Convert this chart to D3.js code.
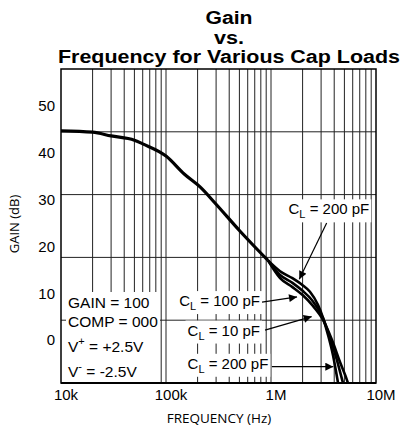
<!DOCTYPE html>
<html>
<head>
<meta charset="utf-8">
<script src="https://cdn.jsdelivr.net/npm/d3@7"></script>
<style>
  body { margin: 0; background: #fff; }
  svg { display: block; font-family: "Liberation Sans", Arial, sans-serif; }
</style>
</head>
<body>
<div id="chart"></div>
<script>
// Common part of the response (all loads overlap here)
const baseFreq = [10e3, 20e3, 30e3, 50e3, 60e3, 100e3, 150e3, 211e3, 300e3, 500e3, 674e3, 936e3];
const baseGain = [44.7, 44.4, 43.6, 42.7, 41.9, 39.3, 35.4, 32.7, 29.0, 23.4, 20.3, 17.0];

// Split-off part per load capacitance
const freq200 = [936e3, 1.22e6, 1.6e6, 2.0e6, 2.35e6, 2.8e6, 3.13e6, 3.49e6, 3.89e6, 4.35e6, 4.6e6];
const gain200 = [17.0, 14.7, 13.2, 11.7, 10.3, 7.5, 4.7, 1.1, -3.2, -9.2, -12.5];
const freq100 = [936e3, 1.22e6, 1.6e6, 2.0e6, 2.46e6, 3.13e6, 3.65e6, 4.16e6, 4.85e6, 5.1e6];
const gain100 = [17.0, 13.9, 12.2, 10.5, 8.5, 4.7, 0.4, -3.6, -9.2, -11];
const freq10 = [936e3, 1.22e6, 1.6e6, 2.0e6, 2.46e6, 3.13e6, 3.81e6, 4.54e6, 5.41e6, 5.7e6];
const gain10 = [17.0, 13.2, 11.3, 9.6, 7.5, 4.3, 0.0, -4.7, -9.2, -11];

const xTickVals = [1e4, 1e5, 1e6, 1e7];
const xTickText = ["10k", "100k", "1M", "10M"];
const yTickVals = [0, 10, 20, 30, 40, 50];

const titleLines = ["Gain", "vs.", "Frequency for Various Cap Loads"];
const condLines = [["GAIN = 100"], ["COMP = 000"], ["V", "+", " = +2.5V"], ["V", "-", " = -2.5V"]];

// label text (right end) and arrow (from -> tip), in data units
const notes = [
  { cap: "200 pF", tf: 8.63e6, tg: 28.0, af: 3.39e6, ag: 25.0, bf: 1.86e6, bg: 13.0 },
  { cap: "100 pF", tf: 785e3, tg: 8.4, af: 821e3, ag: 8.1, bf: 1.77e6, bg: 9.2 },
  { cap: "10 pF", tf: 785e3, tg: 2.1, af: 877e3, ag: 2.1, bf: 2.44e6, bg: 5.0 },
  { cap: "200 pF", tf: 943e3, tg: -5.0, af: 1.02e6, ag: -5.7, bf: 3.92e6, bg: -5.7 }
];

const width = 402, height = 438;
const mLeft = 61, mRight = 376, mTop = 69, mBottom = 383;

const x = d3.scaleLog().domain([1e4, 1e7]).range([mLeft, mRight]);
const y = d3.scaleLinear().domain([-9.19, 57.9]).range([mBottom, mTop]);
const gridY = d3.scaleLinear().domain([0, 5]).range([mBottom, mTop]);

const svg = d3.select("#chart").append("svg")
  .attr("width", width).attr("height", height);

const defs = svg.append("defs");
defs.append("clipPath").attr("id", "plot")
  .append("rect").attr("x", mLeft).attr("y", mTop)
  .attr("width", mRight - mLeft).attr("height", mBottom - mTop);

defs.append("marker")
  .attr("id", "arrow").attr("viewBox", "0 0 10 10")
  .attr("refX", 10).attr("refY", 5)
  .attr("markerWidth", 11).attr("markerHeight", 8)
  .attr("markerUnits", "userSpaceOnUse")
  .attr("orient", "auto")
  .append("path").attr("d", "M0,0L10,5L0,10Z").attr("fill", "#000");

// title (stretched a little, like the original artwork)
const titleWidths = [47, 30, 342];
svg.append("g").selectAll("text").data(titleLines).enter().append("text")
  .attr("x", 229).attr("y", (d, i) => 24 + i * 19.5)
  .attr("text-anchor", "middle")
  .attr("font-weight", "bold").attr("font-size", 18)
  .attr("textLength", (d, i) => titleWidths[i])
  .attr("lengthAdjust", "spacingAndGlyphs")
  .text(d => d);

// grid
const vgrid = [];
[1e4, 1e5, 1e6].forEach(dec => d3.range(2, 10).forEach(m => vgrid.push(dec * m)));
vgrid.push(1e5, 1e6);
const grid = svg.append("g").attr("stroke", "#222").attr("stroke-width", 1);
grid.selectAll("line.v").data(vgrid).enter().append("line")
  .attr("class", "v")
  .attr("x1", d => x(d)).attr("x2", d => x(d))
  .attr("y1", mTop).attr("y2", mBottom);
grid.selectAll("line.h").data(d3.range(1, 5)).enter().append("line")
  .attr("class", "h")
  .attr("x1", mLeft).attr("x2", mRight)
  .attr("y1", d => gridY(d)).attr("y2", d => gridY(d));

// curves
const line = d3.line()
  .x(d => x(d[0])).y(d => y(d[1]))
  .curve(d3.curveMonotoneX);
const base = baseFreq.map((f, i) => [f, baseGain[i]]);
const series = [
  freq200.map((f, i) => [f, gain200[i]]),
  freq100.map((f, i) => [f, gain100[i]]),
  freq10.map((f, i) => [f, gain10[i]])
];
const curves = svg.append("g").attr("clip-path", "url(#plot)")
  .attr("fill", "none").attr("stroke", "#000");
curves.append("path").attr("d", line(base)).attr("stroke-width", 3.2);
curves.selectAll("path.cap").data(series).enter().append("path")
  .attr("class", "cap")
  .attr("d", d => line(d))
  .attr("stroke-width", 2.6);

// condition box
const cond = svg.append("g");
cond.append("rect").attr("x", mLeft + 5).attr("y", 292)
  .attr("width", 94).attr("height", mBottom - 292).attr("fill", "#fff");
const condText = cond.selectAll("text").data(condLines).enter().append("text")
  .attr("x", mLeft + 7)
  .attr("y", (d, i) => [302.7, 321, 346.7, 371.7][i])
  .attr("dy", "0.36em").attr("font-size", 15.5);
condText.append("tspan").text(d => d[0]);
condText.filter(d => d.length > 2).append("tspan")
  .attr("dy", -7).attr("font-size", 11).text(d => d[1]);
condText.filter(d => d.length > 2).append("tspan")
  .attr("dy", 7).text(d => d[2]);

// cap-load labels with arrows
const ann = svg.append("g");
notes.forEach(n => {
  const g = ann.append("g");
  const t = g.append("text")
    .attr("x", x(n.tf)).attr("y", y(n.tg))
    .attr("dy", "0.36em").attr("text-anchor", "end").attr("font-size", 15);
  t.append("tspan").text("C");
  t.append("tspan").attr("dy", 4).attr("font-size", 11).text("L");
  t.append("tspan").attr("dy", -4).text(" = " + n.cap);
  const bb = t.node().getBBox();
  g.insert("rect", "text")
    .attr("x", bb.x - 2).attr("y", bb.y - 1)
    .attr("width", bb.width + 4).attr("height", bb.height + 3)
    .attr("fill", "#fff");
  ann.append("line")
    .attr("x1", x(n.af)).attr("y1", y(n.ag))
    .attr("x2", x(n.bf)).attr("y2", y(n.bg))
    .attr("stroke", "#000").attr("stroke-width", 1.2)
    .attr("marker-end", "url(#arrow)");
});

// frame
svg.append("rect").attr("x", mLeft).attr("y", mTop)
  .attr("width", mRight - mLeft).attr("height", mBottom - mTop)
  .attr("fill", "none").attr("stroke", "#000").attr("stroke-width", 1.5);
svg.append("line").attr("x1", mLeft).attr("x2", mRight)
  .attr("y1", mBottom).attr("y2", mBottom)
  .attr("stroke", "#000").attr("stroke-width", 2);

// axis labels
svg.append("g").selectAll("text").data(xTickVals).enter().append("text")
  .attr("x", d => x(d) + 5).attr("y", 400)
  .attr("text-anchor", "middle").attr("font-size", 15)
  .text((d, i) => xTickText[i]);
svg.append("g").selectAll("text").data(yTickVals).enter().append("text")
  .attr("x", 55).attr("y", d => y(d))
  .attr("dy", "0.36em").attr("text-anchor", "end").attr("font-size", 15)
  .text(d => d);

svg.append("text").attr("x", 219).attr("y", 423)
  .attr("text-anchor", "middle").attr("font-size", 13.5)
  .style("font-family", "'Open Sans', sans-serif")
  .text("FREQUENCY (Hz)");
svg.append("text")
  .attr("transform", "translate(19,224) rotate(-90)")
  .attr("text-anchor", "middle").attr("font-size", 13)
  .style("font-family", "'Open Sans', sans-serif")
  .text("GAIN (dB)");
</script>
</body>
</html>
